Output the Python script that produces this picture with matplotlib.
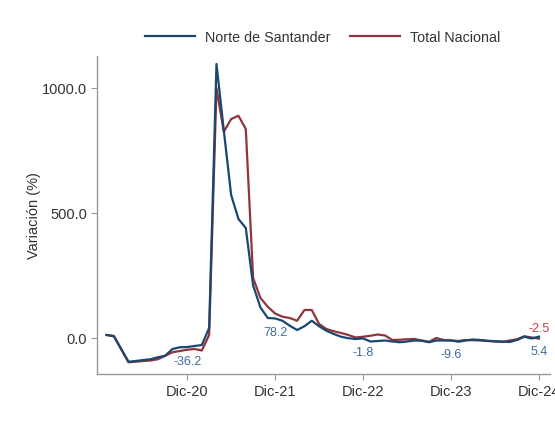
import matplotlib
matplotlib.use("Agg")
import matplotlib.pyplot as plt

# ---- data (monthly, Jan-2020 .. Dec-2024) ----
tick_labels = ["Dic-20", "Dic-21", "Dic-22", "Dic-23", "Dic-24"]
tick_index = [11, 23, 35, 47, 59]

norte = [12, 8, -44, -95, -92, -88, -85, -77, -71, -44, -37, -36.2,
         -32, -28, 40, 1096, 830, 572, 476, 440, 210, 122, 80, 78.2,
         69, 49, 32, 47, 69, 47, 29, 16, 5, -1, -4, -1.8,
         -14, -12, -10, -14, -17, -14, -10, -11, -17, -10, -10, -9.6,
         -15, -10, -6, -8, -11, -13, -14, -16, -8, 5, -2, 5.4]

nacional = [12, 7, -45, -97, -95, -92, -90, -85, -71, -57, -52, -47,
            -44, -50, 12, 1000, 825, 876, 889, 836, 240, 160, 125, 98,
            85, 80, 69, 112, 112, 56, 36, 27, 20, 12, 2, 5,
            9, 14, 10, -8, -7, -5, -4, -10, -15, 0, -8, -10,
            -12, -8, -9, -10, -12, -14, -16, -10, -5, 7, 2, -2.5]

series_names = ["Norte de Santander", "Total Nacional"]
blue = "#1a476f"
red = "#90353b"

plt.rcParams['font.family'] = ['Liberation Sans', 'DejaVu Sans']

fig = plt.figure(figsize=(5.55, 4.27), dpi=100)
ax = fig.add_axes([97/555, 1 - 375/427, (550-97)/555, (375-57)/427])

x = list(range(len(norte)))
ax.plot(x, norte, color=blue, lw=1.6, label=series_names[0], zorder=3)
ax.plot(x, nacional, color=red, lw=1.6, label=series_names[1], zorder=2)

ax.set_xlim(-1.3, 60.5)
ax.set_ylim(-144, 1128)
ax.set_yticks([0, 500, 1000])
ax.set_yticklabels(["0.0", "500.0", "1000.0"])
ax.set_xticks(tick_index)
ax.set_xticklabels(tick_labels)

for s in ["top", "right"]:
    ax.spines[s].set_visible(False)
for s in ["left", "bottom"]:
    ax.spines[s].set_color("#999999")
    ax.spines[s].set_linewidth(1.0)
ax.tick_params(axis="both", colors="#999999", labelcolor="#333333",
               labelsize=10.5, length=4, width=0.8, pad=3)
ax.set_ylabel("Variación (%)", fontsize=10.5, color="#333333")
ax.yaxis.set_label_coords((41 - 97) / 453, 0.5)

# data labels at each December
for i in tick_index:
    v = norte[i]
    ax.annotate(f"{v:.1f}", (i, v), xytext=(0, -10), textcoords="offset points",
                ha="center", va="center", fontsize=9, color="#3f6c98")
i = tick_index[-1]
ax.annotate(f"{nacional[i]:.1f}", (i, nacional[i]), xytext=(0, 8),
            textcoords="offset points", ha="center", va="center",
            fontsize=9, color="#c83c4a")

leg = fig.legend(loc="center", bbox_to_anchor=(322.5 / 555, 1 - 38/427), ncol=2,
                 frameon=False, fontsize=10.3, handlelength=3.5, columnspacing=1.4,
                 handletextpad=0.7)
for t in leg.get_texts():
    t.set_color("#333333")

fig.savefig("out.png", dpi=100, facecolor="white")
